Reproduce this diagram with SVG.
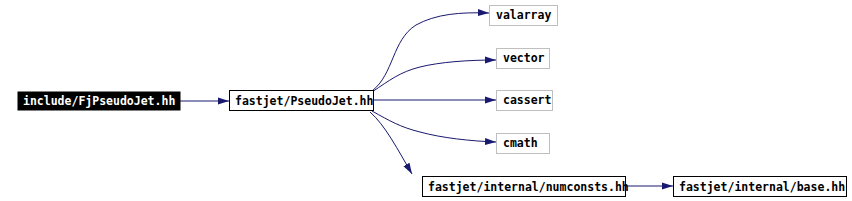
<svg xmlns="http://www.w3.org/2000/svg" width="852" height="201" viewBox="0 0 852 201">
<style>
text{font-family:"DejaVu Sans Mono","Liberation Mono",monospace;font-weight:bold;font-size:11.5px;fill:#000}
.n{fill:#fff;stroke:#000;stroke-width:1}
.g{fill:#fff;stroke:#bfbfbf;stroke-width:1}
.e{fill:none;stroke:#191970;stroke-width:1;marker-end:url(#a)}
</style>
<defs>
<marker id="a" markerUnits="userSpaceOnUse" markerWidth="11" markerHeight="8" refX="11" refY="4" orient="auto">
<path d="M0,0.5 L11,4 L0,7.5 z" fill="#191970"/>
</marker>
</defs>
<rect width="852" height="201" fill="#fff"/>
<g id="edges">
<path class="e" d="M180,101 L229,101"/>
<path class="e" d="M372,91 C394,74 392,40 416,25 C436,14 460,12 489,13"/>
<path class="e" d="M372,92 C390,80 400,72 420,67 C440,62 468,60 496,60"/>
<path class="e" d="M372,100 L496,100"/>
<path class="e" d="M372,111 C390,121 400,127 420,132 C442,138 470,141 496,142"/>
<path class="e" d="M370,112 C385,125 398,150 412,174"/>
<path class="e" d="M625,186 L673,186"/>
</g>
<g id="node1"><rect x="18" y="92" width="162" height="18" fill="#000" stroke="#000"/><text x="23" y="105" style="fill:#fff">include/FjPseudoJet.hh</text></g>
<g id="node2"><rect class="n" x="229.5" y="90.5" width="144" height="20"/><text x="235" y="105">fastjet/PseudoJet.hh</text></g>
<g id="node3"><rect class="g" x="489.5" y="5.5" width="68" height="20"/><text x="496" y="19">valarray</text></g>
<g id="node4"><rect class="g" x="496.5" y="48.5" width="53" height="20"/><text x="503" y="62">vector</text></g>
<g id="node5"><rect class="g" x="496.5" y="90.5" width="56" height="20"/><text x="503" y="104">cassert</text></g>
<g id="node6"><rect class="g" x="496.5" y="133.5" width="53" height="20"/><text x="503" y="147">cmath</text></g>
<g id="node7"><rect class="n" x="422.5" y="176.5" width="203" height="20"/><text x="428" y="191">fastjet/internal/numconsts.hh</text></g>
<g id="node8"><rect class="n" x="673.5" y="176.5" width="173" height="20"/><text x="679" y="191">fastjet/internal/base.hh</text></g>
</svg>
